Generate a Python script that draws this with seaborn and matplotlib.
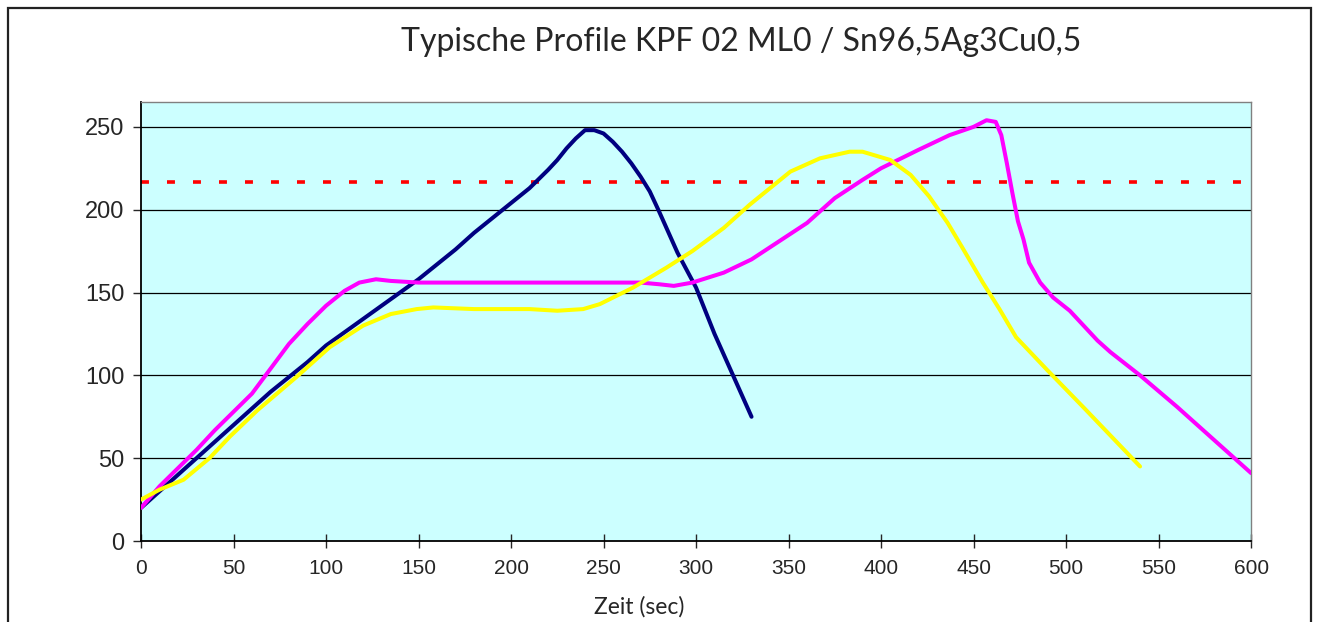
"""
plot.py
Typische Lötprofile (Temperatur über Zeit) für KPF 02 ML0 / Sn96,5Ag3Cu0,5.
"""
import numpy as np
import pandas as pd
import matplotlib
matplotlib.use("Agg")
import matplotlib.pyplot as plt
import seaborn as sns
from matplotlib.patches import Rectangle

# 1. Daten
navy_t = [0, 10, 20, 30, 40, 50, 60, 70, 80, 90, 100, 110, 120, 130, 140, 150,
          160, 170, 180, 190, 200, 210, 220, 225, 230, 235, 240, 245, 250, 255,
          260, 265, 270, 275, 280, 290, 300, 310, 320, 330]
navy_y = [20, 30, 40, 50, 60, 70, 80, 90, 99, 108, 118, 126, 134, 142, 150, 158,
          167, 176, 186, 195, 204, 213, 224, 230, 237, 243, 248, 248, 246, 241,
          235, 228, 220, 211, 199, 174, 153, 125, 100, 75]

magenta_t = [0, 10, 20, 30, 40, 50, 60, 70, 80, 90, 100, 110, 118, 127, 135, 150,
             200, 250, 270, 280, 288, 298, 315, 330, 345, 360, 375, 390, 400, 420,
             437, 450, 457, 462, 465, 468, 471, 474, 477, 480, 486, 493, 502, 517,
             524, 540, 560, 580, 600]
magenta_y = [20, 33, 44, 55, 67, 78, 89, 104, 119, 131, 142, 151, 156, 158, 157, 156,
             156, 156, 156, 155, 154, 156, 162, 170, 181, 192, 207, 218, 225, 236,
             245, 250, 254, 253, 245, 228, 210, 193, 182, 168, 156, 147, 139, 121,
             114, 100, 81, 61, 41]

yellow_t = [0, 10, 23, 37, 48, 63, 84, 102, 120, 135, 149, 158, 180, 210, 225, 239,
            248, 266, 284, 298, 315, 329, 351, 367, 383, 390, 405, 416, 426, 436,
            444, 455, 464, 473, 490, 510, 540]
yellow_y = [25, 31, 37, 50, 63, 79, 99, 117, 130, 137, 140, 141, 140, 140, 139, 140,
            143, 153, 165, 175, 189, 203, 223, 231, 235, 235, 230, 221, 208, 192,
            177, 156, 140, 123, 103, 80, 45]

schmelzpunkt = 217  # rote gepunktete Linie
x_ticks = list(range(0, 601, 50))
y_ticks = list(range(0, 251, 50))

title = "Typische Profile KPF 02 ML0 / Sn96,5Ag3Cu0,5"
xlabel = "Zeit (sec)"


def build_frame() -> pd.DataFrame:
    """Baut eine lange Tabelle aus den drei Profilen."""
    parts = []
    for name, t, y in [("navy", navy_t, navy_y),
                       ("magenta", magenta_t, magenta_y),
                       ("yellow", yellow_t, yellow_y)]:
        parts.append(pd.DataFrame({"zeit": t, "temp": y, "profil": name}))
    return pd.concat(parts, ignore_index=True)


def main():
    sns.set_style("white")
    plt.rcParams['font.family'] = ['Liberation Sans', 'DejaVu Sans']

    fig = plt.figure(figsize=(13.19, 6.22), dpi=100)
    ax = fig.add_axes([0.1069, 0.1302, 0.8416, 0.7058])
    ax.set_facecolor("#CCFFFF")

    # Gitternetz hinter den Linien
    for yv in y_ticks[1:]:
        ax.axhline(yv, color="black", lw=0.9, zorder=1)

    df = build_frame()
    palette = {"navy": "#000080", "magenta": "#FF00FF", "yellow": "#FFFF00"}
    sns.lineplot(data=df, x="zeit", y="temp", hue="profil", palette=palette,
                 estimator=None, sort=False, lw=2.9, legend=False, ax=ax,
                 zorder=3)

    ax.axhline(schmelzpunkt, color="#FF0000", lw=2.6, ls=(0, (2.2, 5.0)), zorder=2)

    ax.set_xlim(0, 600)
    ax.set_ylim(0, 265)
    ax.set_xticks(x_ticks)
    ax.set_yticks(y_ticks)
    ax.tick_params(axis="x", direction="inout", length=10, width=1,
                   labelsize=15, pad=8)
    ax.tick_params(axis="y", direction="out", length=6, width=1,
                   labelsize=17, pad=6, left=True)
    ax.tick_params(axis="x", bottom=True)

    for s in ["left", "bottom"]:
        ax.spines[s].set_color("black")
        ax.spines[s].set_linewidth(1.3)
    for s in ["top", "right"]:
        ax.spines[s].set_color("#808080")
        ax.spines[s].set_linewidth(1.0)

    ax.set_xlabel("")
    ax.set_ylabel("")

    fig.text(0.562, 0.932, title, ha="center", va="center", fontsize=23,
             family=["Lato", "DejaVu Sans"])
    fig.text(0.4845, 0.024, xlabel, ha="center", va="center", fontsize=16.5,
             family=["Lato", "DejaVu Sans"])

    # äußerer Rahmen (unten abgeschnitten)
    fig.patches.append(Rectangle((0.0061, -0.2), 0.9878, 1.187,
                                 transform=fig.transFigure, fill=False,
                                 edgecolor="#222222", lw=1.6, clip_on=False))

    fig.savefig("out.png", dpi=100)


if __name__ == "__main__":
    main()
